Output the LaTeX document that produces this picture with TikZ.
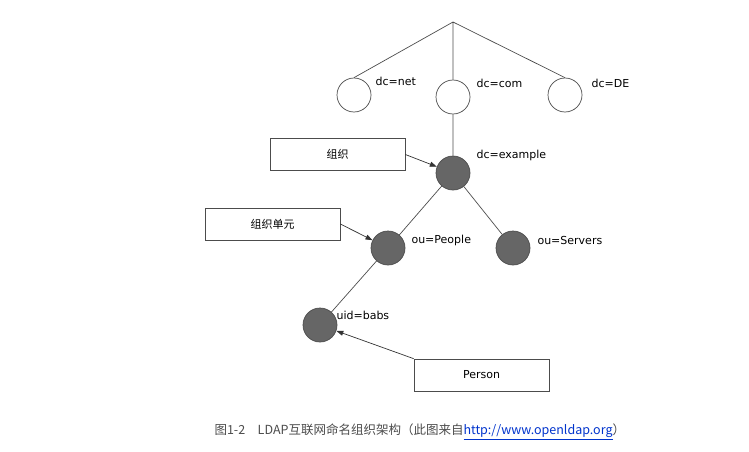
\documentclass[tikz,border=0pt]{standalone}
\usepackage{fontspec}
\setmainfont{DejaVu Sans}
\newfontfamily\cjk{Noto Sans CJK SC}
\usetikzlibrary{positioning,arrows.meta}
\begin{document}
\begin{tikzpicture}
        [x=1pt,y=-1pt,
         w/.style={circle,draw=black!70,line width=0.7pt,fill=white,minimum size=34pt,inner sep=0pt},
         g/.style={circle,draw=black!70,line width=0.7pt,fill=gray!80!black,minimum size=34pt,inner sep=0pt},
         b/.style={draw=black!70,line width=0.7pt,minimum width=135pt,minimum height=32pt,font=\cjk\fontsize{11}{13}\selectfont},
         l/.style={anchor=west,font=\fontsize{11}{13}\selectfont},
         ln/.style={draw=black!70,line width=0.7pt},
         ar/.style={draw=black!80,line width=0.7pt,-{Triangle[length=7pt,width=5pt]}}]
        \useasboundingbox (0,0) rectangle (749,452);
        \coordinate (r) at (453,22);
        \node[w](net) at (354,95){};
        \node[w](com) at (453,97){};
        \node[w](de) at (565,95){};
        \node[g](ex) at (453,173){};
        \node[g](pe) at (388,248){};
        \node[g](se) at (513,248){};
        \node[g](ba) at (320,325){};
        \node[l] at (372,81){dc=net};
        \node[l] at (473,83){dc=com};
        \node[l] at (588,83){dc=DE};
        \node[l] at (473,155){dc=example};
        \node[l] at (408,240){ou=People};
        \node[l] at (534,240){ou=Servers};
        \node[l] at (333,315){uid=babs};
        \node[b](o1) at (337.5,154.5){组织};
        \node[b](o2) at (272.5,224){组织单元};
        \node[b,font=\fontsize{11}{13}\selectfont](pr) at (481.5,375){Person};
        \draw[ln] (r) -- (net.north) (r) -- (com.north) (r) -- (de.north);
        \draw[ln] (com) -- (ex) (ex) -- (pe) (ex) -- (se) (pe) -- (ba);
        \draw[ar] (o1.east) -- (ex);
        \draw[ar] (o2.east) -- (pe);
        \draw[ar] (pr.north west) -- (ba);
        \node[anchor=west,font=\cjk\fontsize{12.5}{14}\selectfont,text=black!70] at (211,432)
          {图1-2\quad LDAP互联网命名组织架构（此图来自\textcolor{blue!60!teal}{\underline{http://www.openldap.org}}）};
\end{tikzpicture}
\end{document}
